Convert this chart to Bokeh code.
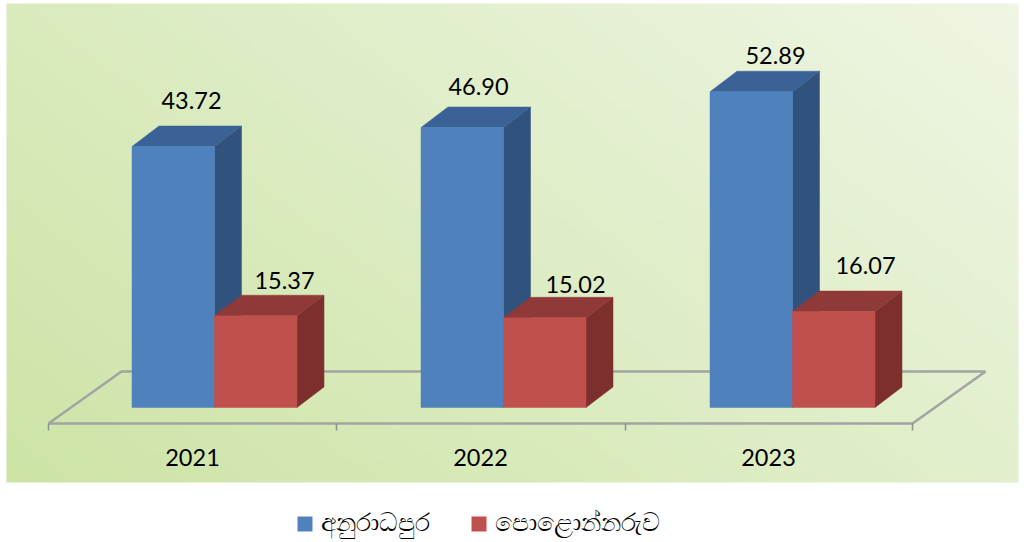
import numpy as np
from bokeh.plotting import figure
from bokeh.embed import file_html
from bokeh.resources import INLINE
from bokeh.core.properties import value
from bokeh.models import Range1d

years = ["2021", "2022", "2023"]
anuradhapura = [43.72, 46.90, 52.89]
polonnaruwa = [15.37, 15.02, 16.07]
series_names = ["අනුරාධපුර", "පොළොන්නරුව"]

PX_X = 289.0   # px per category
PX_Y = 5.97    # px per value unit
W, H = 1024, 542
X0, Y0 = 214.0, 407.0  # pixel of first group centre / baseline


def dx(px):
    return px / PX_X


def dy(px):
    return px / PX_Y


def xp(px):
    return (px - X0) / PX_X


def yp(py):
    return (Y0 - py) / PX_Y


p = figure(width=W, height=H, output_backend="svg", toolbar_location=None,
           x_range=Range1d(xp(0), xp(W)), y_range=Range1d(yp(H), yp(0)),
           min_border=0, min_border_left=0, min_border_right=0,
           min_border_top=0, min_border_bottom=0, outline_line_color=None,
           background_fill_color="white", border_fill_color="white")
p.axis.visible = False
p.grid.visible = False

# gradient panel
nx, ny = 128, 64
u, v = np.meshgrid(np.linspace(0, 1, nx), np.linspace(0, 1, ny))  # v=0 bottom
t = np.clip(0.62 * u + 0.38 * v, 0, 1)[..., None]
c0 = np.array([0xCD, 0xE4, 0xA6], float)
c1 = np.array([0xEF, 0xF6, 0xE4], float)
rgb = c0 + (c1 - c0) * t
img = np.zeros((ny, nx), dtype=np.uint32)
view = img.view(dtype=np.uint8).reshape((ny, nx, 4))
view[..., :3] = rgb.astype(np.uint8)
view[..., 3] = 255
p.image_rgba(image=[img], x=xp(6), y=yp(482), dw=1012 / PX_X, dh=479 / PX_Y)

# floor
LINE = "#a2a4a2"
fx = [xp(48), xp(912), xp(985), xp(121), xp(48)]
fy = [yp(423), yp(423), yp(371), yp(371), yp(423)]
p.line(fx, fy, line_color=LINE, line_width=2.5)
for tx in (48, 336, 625, 912):
    p.segment(xp(tx), yp(423), xp(tx), yp(430), line_color="#8c8f8c", line_width=1.5)

DEPTH_X, DEPTH_Y = 27.0, 20.5
BW = 82.5


def bar(center_px, val, front, top, side):
    l, r = xp(center_px), xp(center_px + BW)
    d, h = dx(DEPTH_X), dy(DEPTH_Y)
    p.patch([r, r + d, r + d, r], [0, h, val + h, val], fill_color=side, line_color=side, line_width=0.5)
    p.patch([l, r, r + d, l + d], [val, val, val + h, val + h], fill_color=top, line_color=top, line_width=0.5)
    p.quad(left=l, right=r, bottom=0, top=val, fill_color=front, line_color=front, line_width=0.5)


for i in range(3):
    cx = X0 + i * PX_X
    bar(cx - BW, anuradhapura[i], "#4F81BD", "#3A6296", "#30527C")
    bar(cx, polonnaruwa[i], "#C0504D", "#8F3A38", "#7D2F2E")

FONT = value("Lato")
label_x = [191, 478, 775, 284, 575, 865]
label_y = [99.5, 85.5, 54.5, 279.5, 283.5, 264.5]
label_txt = [f"{v:.2f}" for v in anuradhapura + polonnaruwa]
p.text([xp(a) for a in label_x], [yp(b) for b in label_y], text=label_txt,
       text_font=FONT, text_font_size="23.5px", text_color="#000000",
       text_align="center", text_baseline="middle")
cat_x = [192, 480, 768]
p.text([xp(a) for a in cat_x], [yp(456.5)] * 3, text=years,
       text_font=FONT, text_font_size="23.5px", text_color="#000000",
       text_align="center", text_baseline="middle")

# legend
for sq, tx, c, name in ((297, 320, "#4F81BD", series_names[0]), (471, 494, "#C0504D", series_names[1])):
    p.quad(left=xp(sq), right=xp(sq + 15), bottom=yp(531), top=yp(516), fill_color=c, line_color=None)
    p.text([xp(tx)], [yp(520.5)], text=[name], text_font=value("Noto Sans"),
           text_font_size="24.5px", text_color="#000000", text_align="left", text_baseline="middle")

open("out.html", "w").write(file_html(p, INLINE))
